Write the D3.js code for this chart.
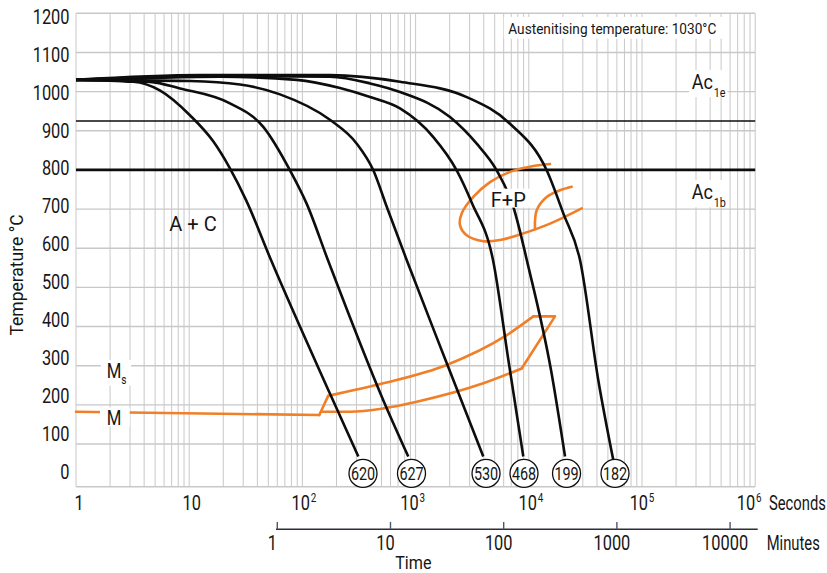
<!DOCTYPE html>
<html><head><meta charset="utf-8">
<script src="https://cdn.jsdelivr.net/npm/d3@7"></script>
<style>
html,body{margin:0;padding:0;background:#fff;}
svg{display:block;}
text{font-family:Roboto,"Noto Sans",sans-serif;fill:#161616;}
</style></head><body>
<svg id="chart" width="827" height="573"></svg>
<script>
// ---------------- data ----------------
const secondTicks = [1, 10, 100, 1000, 10000, 100000, 1000000];
const secondExp   = ["", "", "2", "3", "4", "5", "6"];
const secondBase  = ["1", "10", "10", "10", "10", "10", "10"];
const minuteTicks = [1, 10, 100, 1000, 10000];
const tempTicks   = [0, 100, 200, 300, 400, 500, 600, 700, 800, 900, 1000, 1100, 1200];
const ac1e = 925;
const ac1b = 800;

// cooling curves [seconds, °C]
const curve620 = [[1,1030],[3.2,1025],[5.5,1003],[10.2,939],[16.3,873],[22.9,804],[31.8,723],[52.8,570],[175,229],[312,68]];
const curve627 = [[1,1030],[4.5,1025],[8.3,1008],[22.9,970],[45.1,910],[77.7,799],[109,714],[168,570],[518,212],[862,68]];
const curve530 = [[1,1030],[10.2,1027],[28.1,1018],[63.4,993],[175,928],[302,867],[423,799],[556,706],[834,570],[1841,314],[3963,68]];
const curve468 = [[1,1030],[4.5,1035],[18.7,1038],[89.1,1030],[215,1009],[396,986],[728,957],[1434,884],[2307,799],[3150,715],[4828,570],[6604,314],[8942,68]];
const curve199 = [[1,1030],[12.5,1040],[175,1038],[396,1021],[728,999],[2013,935],[3466,867],[5204,799],[7297,706],[9838,557],[15710,289],[20900,68]];
const curve182 = [[1,1030],[12.5,1042],[175,1042],[728,1025],[2828,986],[6822,918],[14390,799],[20180,689],[28340,570],[41110,263],[55780,59]];

// hardness labels (HV) at end of each curve
const hardness     = ["620", "627", "530", "468", "199", "182"];
const hardnessTime = [343, 920, 4190, 9070, 21540, 57740];

// martensite start line and bainite region
const msLine        = [[1,182.5],[141,174]];
const bainiteRise   = [[141,174],[169,223]];
const bainiteUpper  = [[169,223],[518,255],[1883,302],[6380,378],[10960,426]];
const bainiteTop    = [[10960,426],[17040,426],[8655,293]];
const bainiteLower  = [[148,182.5],[263,182.5],[518,191],[1023,208],[3963,255],[8655,293]];

// ferrite + pearlite region
const fpOuter = [[15390,815],[10960,810],[6822,795],[4542,769],[3233,731],[2554,689],[2467,659],[2828,633],[3963,618],[5567,621],[8942,638],[15390,663],[29340,702]];
const fpInner = [[11340,649],[11743,697],[14390,731],[18860,748],[23930,757]];

// ---------------- drawing ----------------
const svg = d3.select('#chart');
const GRID = '#c8c8c8', ORANGE = '#f07f28', INK = '#0d0d0d';
const x = d3.scaleLog().domain([1, 1e6]).range([76, 755.2]);
const y = d3.scaleLinear().domain([0, 1200]).range([483.2, 13.3]);
const yLab = d3.scaleLinear().domain([0, 1200]).range([471.7, 16.7]);
const plotTop = 13.3, plotBottom = 486.7;
const secondNudge = [3, 2.5, 1.5, -3, 2, 0, -6];

svg.append('rect').attr('width', 827).attr('height', 573).attr('fill', '#fff');

// grid
const gridX = [];
for (let d = 1; d < 1e6; d *= 10) for (let k = 1; k < 10; k++) gridX.push(d * k);
gridX.push(1e6);
const grid = svg.append('g');
grid.selectAll('line.v').data(gridX).join('line').attr('class', 'v')
  .attr('x1', d => x(d)).attr('x2', d => x(d)).attr('y1', plotTop).attr('y2', plotBottom)
  .attr('stroke', GRID).attr('stroke-width', 1);
grid.selectAll('line.h').data(tempTicks.filter(t => t > 0)).join('line').attr('class', 'h')
  .attr('x1', x(1)).attr('x2', x(1e6)).attr('y1', d => y(d)).attr('y2', d => y(d))
  .attr('stroke', GRID).attr('stroke-width', 1.4);
grid.append('line').attr('x1', x(1)).attr('x2', x(1e6)).attr('y1', plotBottom).attr('y2', plotBottom)
  .attr('stroke', GRID).attr('stroke-width', 1.4);

// Ac lines
svg.append('line').attr('x1', x(1)).attr('x2', x(1e6)).attr('y1', y(ac1e)).attr('y2', y(ac1e))
  .attr('stroke', INK).attr('stroke-width', 1.3);
svg.append('line').attr('x1', x(1)).attr('x2', x(1e6)).attr('y1', y(ac1b)).attr('y2', y(ac1b))
  .attr('stroke', INK).attr('stroke-width', 2.8);

const lineM = d3.line().x(d => x(d[0])).y(d => y(d[1])).curve(d3.curveMonotoneX);
const lineL = d3.line().x(d => x(d[0])).y(d => y(d[1]));
const lineC = d3.line().x(d => x(d[0])).y(d => y(d[1])).curve(d3.curveCatmullRom.alpha(0.5));

// orange transformation lines
const og = svg.append('g').attr('fill', 'none').attr('stroke', ORANGE).attr('stroke-width', 2.6)
  .attr('stroke-linejoin', 'round').attr('stroke-linecap', 'round');
og.append('path').attr('d', lineL(msLine));
og.append('path').attr('d', lineL(bainiteRise));
og.append('path').attr('d', lineM(bainiteUpper));
og.append('path').attr('d', lineL(bainiteTop));
og.append('path').attr('d', lineM(bainiteLower));
og.append('path').attr('d', lineC(fpOuter));
og.append('path').attr('d', lineC(fpInner));

// cooling curves
const cooling = [curve620, curve627, curve530, curve468, curve199, curve182];
svg.append('g').selectAll('path').data(cooling).join('path')
  .attr('d', d => lineM(d)).attr('fill', 'none').attr('stroke', INK)
  .attr('stroke-width', 2.6).attr('stroke-linejoin', 'round');

// text helper
function addText(px, py, parts, o = {}) {
  const size = o.size || 20, sx = o.sx || 1;
  const g = svg.append('g').attr('transform', `translate(${px},${py}) scale(${sx},1)`);
  const t = g.append('text').attr('font-size', size).attr('text-anchor', o.anchor || 'start');
  if (o.dy) t.attr('dy', o.dy);
  parts.forEach(p => {
    const s = t.append('tspan').text(p.t);
    if (p.size) s.attr('font-size', p.size);
    if (p.dy) s.attr('dy', p.dy);
    if (p.dx) s.attr('dx', p.dx);
  });
  if (o.box) {
    const b = t.node().getBBox(), [l, tp, r, bt] = o.box;
    g.insert('rect', 'text').attr('x', b.x - l).attr('y', b.y - tp)
      .attr('width', b.width + l + r).attr('height', b.height + tp + bt).attr('fill', '#fff');
  }
  return g;
}

// hardness circles
const hg = svg.append('g');
hardness.forEach((h, i) => {
  hg.append('circle').attr('cx', x(hardnessTime[i])).attr('cy', y(25)).attr('r', 14)
    .attr('fill', '#fff').attr('stroke', INK).attr('stroke-width', 1.3);
});
hardness.forEach((h, i) => {
  const g = hg.append('g').attr('transform', `translate(${x(hardnessTime[i])},${y(25)}) scale(0.8,1)`);
  g.append('text').attr('text-anchor', 'middle').attr('font-size', 18).attr('dy', '0.36em').text(h);
});

// annotations
addText(508.3, 33.5, [{t: 'Austenitising temperature: 1030°C'}], {size: 15, sx: 0.91, box: [5, 3, 11, 1]});
addText(691.7, 89, [{t: 'Ac'}, {t: '1e', size: 12, dy: 8, dx: 1}], {size: 20, sx: 0.9, box: [3, 0, 2, -3]});
addText(691.7, 199, [{t: 'Ac'}, {t: '1b', size: 12, dy: 8, dx: 1}], {size: 20, sx: 0.9, box: [3, 0, 2, -3]});
addText(106.7, 378.3, [{t: 'M'}, {t: 's', size: 12, dy: 6}], {size: 20, sx: 0.84, box: [7, 0, 5, -2]});
addText(106.7, 425, [{t: 'M'}], {size: 20, sx: 0.84, box: [8, -1, 10, -4]});
addText(193, 230.7, [{t: 'A + C'}], {size: 20, anchor: 'middle'});
addText(508.3, 206.7, [{t: 'F+P'}], {size: 20, anchor: 'middle', box: [2, -1, 4, -4]});

// y axis labels
tempTicks.forEach(t => addText(69.5, yLab(t), [{t: String(t)}], {size: 20, sx: 0.82, anchor: 'end', dy: '0.355em'}));
svg.append('text').attr('transform', 'translate(22.5,275) rotate(-90)').attr('text-anchor', 'middle')
  .attr('font-size', 17.5).text('Temperature °C');

// seconds axis labels
secondTicks.forEach((s, i) => {
  const parts = [{t: secondBase[i]}];
  if (secondExp[i]) parts.push({t: secondExp[i], size: 12, dy: -8, dx: 1});
  addText(x(s) + secondNudge[i], 510, parts, {size: 20, sx: 0.82, anchor: 'middle'});
});
addText(769, 510, [{t: 'Seconds'}], {size: 20, sx: 0.74});

// minutes axis
svg.append('line').attr('x1', 276).attr('x2', 757.7).attr('y1', 529.3).attr('y2', 529.3)
  .attr('stroke', '#2a2f3a').attr('stroke-width', 1.4);
svg.append('g').selectAll('line').data(minuteTicks).join('line')
  .attr('x1', d => x(d * 60)).attr('x2', d => x(d * 60)).attr('y1', 522).attr('y2', 529.3)
  .attr('stroke', '#4a5874').attr('stroke-width', 1.4);
minuteTicks.forEach(m => addText(x(m * 60) - 5, 550, [{t: String(m)}], {size: 20, sx: 0.82, anchor: 'middle'}));
addText(766.7, 550, [{t: 'Minutes'}], {size: 20, sx: 0.74});
addText(413.3, 568.5, [{t: 'Time'}], {size: 19, sx: 0.85, anchor: 'middle'});
</script>
</body></html>
